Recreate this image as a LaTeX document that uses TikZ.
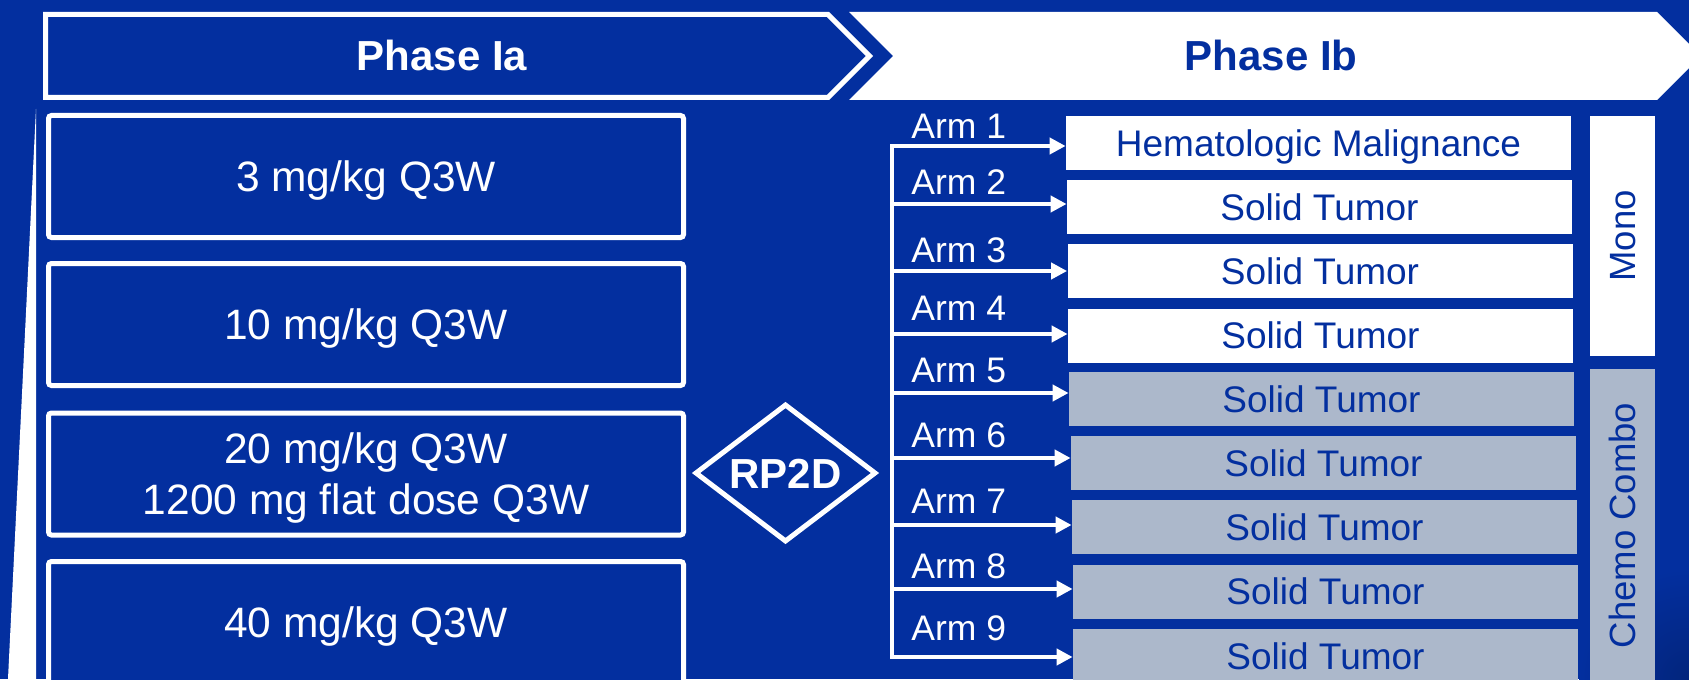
\documentclass[tikz,border=0pt]{standalone}
\usepackage{fontspec}
\setmainfont{Liberation Sans}
\usetikzlibrary{arrows.meta,shapes.geometric}

\definecolor{deepblue}{RGB}{3,47,159}
\definecolor{steelgray}{RGB}{172,184,203}

\newcommand\titlefont{\fontsize{21pt}{25pt}\selectfont\bfseries}
\newcommand\dosefont{\fontsize{21.25pt}{25.5pt}\selectfont}
\newcommand\cohortfont{\fontsize{18.5pt}{22pt}\selectfont}
\newcommand\armfont{\fontsize{17.75pt}{21pt}\selectfont}
\newcommand\sidefont{\fontsize{18.25pt}{22pt}\selectfont}

\begin{document}
\begin{tikzpicture}[x=0.5pt,y=-0.5pt,
  phasetitle/.style={font=\titlefont, inner sep=0pt, text height=15pt, text depth=0pt},
  dosebox/.style={draw=white, line width=2.5pt, rounded corners=1.5pt, fill=deepblue,
    minimum width=317.5pt, minimum height=61pt, inner sep=0pt, text=white,
    font=\dosefont, text height=15.2pt, text depth=0pt},
  cohort/.style={minimum width=252.5pt, minimum height=27pt, inner sep=0pt,
    text=deepblue, font=\cohortfont, text height=13.25pt, text depth=0pt},
  monocell/.style={cohort, fill=white},
  combocell/.style={cohort, fill=steelgray},
  armlabel/.style={anchor=base west, inner sep=0pt, text=white, font=\armfont},
  trunk/.style={draw=white, line width=2pt, line cap=rect},
  branch/.style={draw=white, line width=2pt, -{Triangle[length=8pt,width=8pt]}},
  sidebox/.style={minimum height=32.5pt, inner sep=0pt, rotate=90, text=deepblue,
    font=\sidefont, text height=13.07pt, text depth=0pt}
]
\useasboundingbox (0,0) rectangle (1689,679);
\clip (0,0) rectangle (1689,679);
\fill[deepblue] (0,0) rectangle (1689,679);
% slightly darker corner of the backdrop
\shade[inner color=deepblue!78!black, outer color=deepblue] (1689,679) circle (110);

% thin white wedge along the left edge
\fill[white] (36,109) -- (36,679) -- (8,679) -- cycle;

% phase headers
\draw[white, line width=2.5pt, fill=deepblue]
  (45.5,14.5) -- (828,14.5) -- (869.5,56) -- (828,97.5) -- (45.5,97.5) -- cycle;
\node[phasetitle, text=white] (pia) at (442,56) {Phase Ia};
\fill[white] (849,12) -- (1657,12) -- (1701,56) -- (1657,100) -- (849,100) -- (893,56) -- cycle;
\node[phasetitle, text=deepblue] (pib) at (1271,56) {Phase Ib};

% dose escalation cohorts
\node[dosebox] (d1) at (366,176.5) {3 mg/kg Q3W};
\node[dosebox] (d2) at (366,324.5) {10 mg/kg Q3W};
\node[dosebox, text depth=25.5pt] (d3) at (366,474)
  {\begin{tabular}[t]{@{}c@{}}20 mg/kg Q3W\\1200 mg flat dose Q3W\end{tabular}};
\node[dosebox] (d4) at (366,622.5) {40 mg/kg Q3W};

% recommended phase 2 dose
\node[diamond, aspect=1.325, draw=white, line width=2.5pt, minimum width=90.5pt,
  minimum height=69pt, inner sep=0pt, text=white, font=\titlefont,
  text height=15pt, text depth=0pt] (rp) at (785.5,473) {RP2D};

% expansion arms
\node[monocell] (h1) at (1318.5,143) {Hematologic Malignance};
\node[monocell] (h2) at (1319.5,207) {Solid Tumor};
\node[monocell] (h3) at (1320,271) {Solid Tumor};
\node[monocell] (h4) at (1320.5,335.5) {Solid Tumor};
\node[combocell] (h5) at (1321.5,399) {Solid Tumor};
\node[combocell] (h6) at (1323.5,463) {Solid Tumor};
\node[combocell] (h7) at (1324.5,527) {Solid Tumor};
\node[combocell] (h8) at (1325.5,591.5) {Solid Tumor};
\node[combocell] (h9) at (1325.5,656) {Solid Tumor};

\node[sidebox, fill=white, minimum width=120pt] (mono) at (1622.5,236) {Mono};
\node[sidebox, fill=steelgray, minimum width=156.5pt] (chemo) at (1622.5,525.5) {Chemo Combo};

% arm labels
\node[armlabel] (a1) at (911,139) {Arm 1};
\node[armlabel] (a2) at (911,195) {Arm 2};
\node[armlabel] (a3) at (911,262) {Arm 3};
\node[armlabel] (a4) at (911,320) {Arm 4};
\node[armlabel] (a5) at (911,382) {Arm 5};
\node[armlabel] (a6) at (911,447) {Arm 6};
\node[armlabel] (a7) at (911,513) {Arm 7};
\node[armlabel] (a8) at (911,578) {Arm 8};
\node[armlabel] (a9) at (911,640) {Arm 9};

% branching connector
\coordinate (t1) at (892,146);
\coordinate (t2) at (892,204);
\coordinate (t3) at (892,271);
\coordinate (t4) at (892,334);
\coordinate (t5) at (892,393);
\coordinate (t6) at (892,458);
\coordinate (t7) at (892,525);
\coordinate (t8) at (892,589);
\coordinate (t9) at (892,657);
\draw[trunk] (t1) -- (t9);
\foreach \i in {1,...,9}
  \draw[branch] (t\i) -- (t\i -| h\i.west);
\end{tikzpicture}
\end{document}
